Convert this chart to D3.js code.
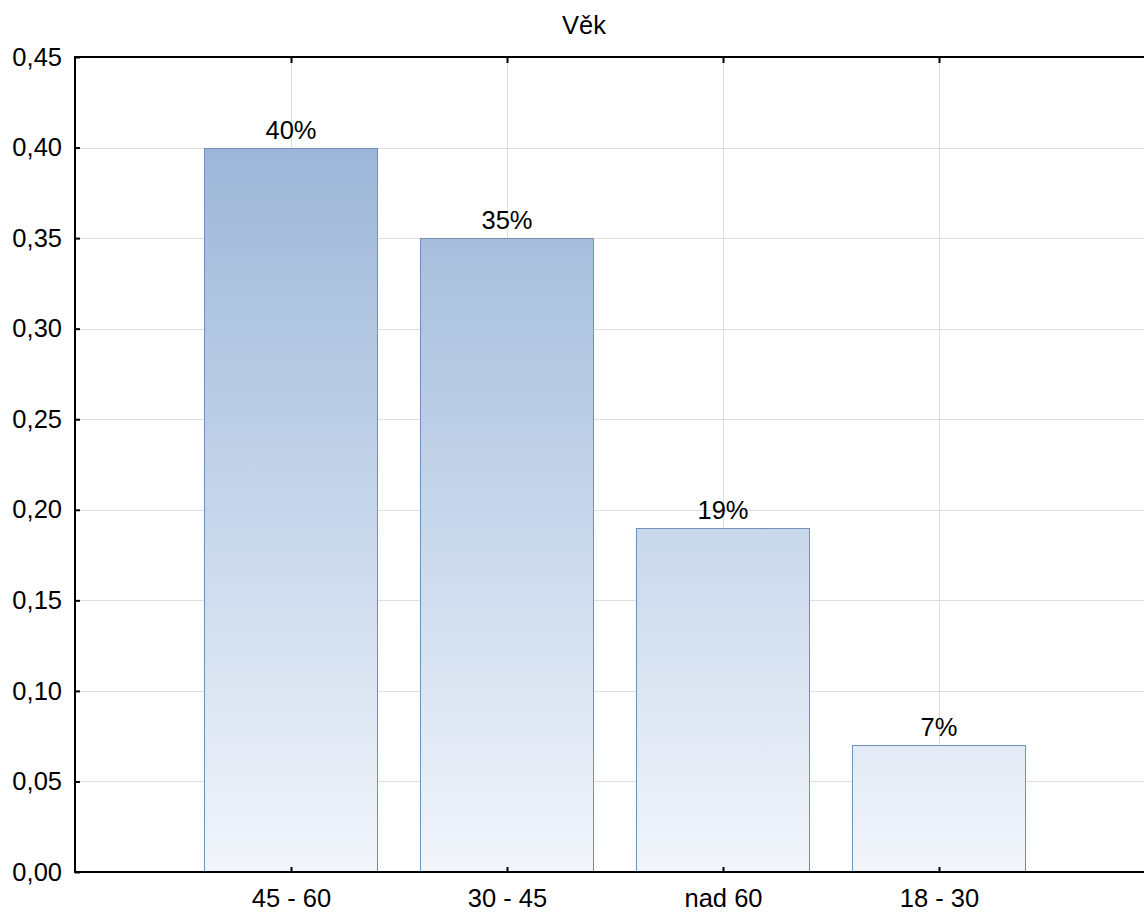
<!DOCTYPE html>
<html>
<head>
<meta charset="utf-8">
<script src="https://cdn.jsdelivr.net/npm/d3@7"></script>
<style>
  html, body { margin: 0; padding: 0; background: #fff; }
  svg { display: block; font-family: "Liberation Sans", Arial, sans-serif; }
</style>
</head>
<body>
<svg id="chart" width="1144" height="913"></svg>
<script>
// Age distribution of respondents
const categories = ["45 - 60", "30 - 45", "nad 60", "18 - 30"];
const shares = [0.40, 0.35, 0.19, 0.07];
const valueLabels = ["40%", "35%", "19%", "7%"];
const yTicks = [0, 0.05, 0.10, 0.15, 0.20, 0.25, 0.30, 0.35, 0.40, 0.45];
const title = "Věk";

(function () {
const svg = d3.select("#chart");
const plotLeft = 75, plotTop = 57, plotBottom = 872, plotRight = 1155;
const fontSize = 25.5;
const fontFamily = "Liberation Sans, Arial, sans-serif";

// categories sit at positions 1..n on a continuous axis padded by one slot each side
const x = d3.scaleLinear().domain([0, categories.length + 1]).range([plotLeft, plotRight]);
const slot = x(1) - x(0);
const barW = slot * 0.8;
const y = d3.scaleLinear().domain([0, 0.45]).range([plotBottom, plotTop]);
const fmt = v => d3.format(".2f")(v).replace(".", ",");

const defs = svg.append("defs");
const grad = defs.append("linearGradient")
  .attr("id", "barFill")
  .attr("gradientUnits", "userSpaceOnUse")
  .attr("x1", 0).attr("x2", 0)
  .attr("y1", y(0.40)).attr("y2", y(0));
grad.append("stop").attr("offset", 0).attr("stop-color", "#9db6d8");
grad.append("stop").attr("offset", 0.5).attr("stop-color", "#c6d6ea");
grad.append("stop").attr("offset", 1).attr("stop-color", "#f2f5fb");

// grid
const grid = svg.append("g").attr("stroke", "#dedede").attr("stroke-width", 1);
grid.selectAll("line.h").data(yTicks.slice(1, -1)).join("line")
  .attr("class", "h")
  .attr("x1", plotLeft).attr("x2", 1144)
  .attr("y1", d => Math.round(y(d)) + 0.5).attr("y2", d => Math.round(y(d)) + 0.5);
grid.selectAll("line.v").data(categories).join("line")
  .attr("class", "v")
  .attr("x1", (d, i) => Math.round(x(i + 1)) + 0.5).attr("x2", (d, i) => Math.round(x(i + 1)) + 0.5)
  .attr("y1", plotTop).attr("y2", plotBottom);

// bars
svg.append("g").selectAll("rect").data(shares).join("rect")
  .attr("x", (d, i) => Math.round(x(i + 1) - barW / 2) - 0.5)
  .attr("y", d => Math.round(y(d)) + 0.5)
  .attr("width", Math.round(barW))
  .attr("height", d => Math.round(y(0)) - Math.round(y(d)))
  .attr("fill", "url(#barFill)")
  .attr("stroke", "#7290b7")
  .attr("stroke-width", 1);

// value labels
svg.append("g").selectAll("text").data(shares).join("text")
  .attr("x", (d, i) => x(i + 1))
  .attr("y", d => y(d) - 9)
  .attr("text-anchor", "middle")
  .attr("font-size", fontSize)
  .attr("font-family", fontFamily)
  .attr("fill", "#000")
  .text((d, i) => valueLabels[i]);

// y axis with inward ticks
const yAxis = svg.append("g").attr("transform", `translate(${plotLeft},0)`)
  .call(d3.axisLeft(y).tickValues(yTicks).tickFormat(fmt).tickSize(-5).tickPadding(13));
yAxis.select(".domain").remove();
yAxis.selectAll(".tick line").attr("stroke", "#000").attr("stroke-width", 2);
yAxis.selectAll(".tick text").attr("font-size", fontSize).attr("fill", "#000")
  .attr("font-family", fontFamily);

// bottom axis with inward ticks
const xAxis = svg.append("g").attr("transform", `translate(0,${plotBottom})`)
  .call(d3.axisBottom(x).tickValues(categories.map((c, i) => i + 1))
    .tickFormat((d) => categories[d - 1]).tickSize(-5).tickPadding(17));
xAxis.select(".domain").remove();
xAxis.selectAll(".tick line").attr("stroke", "#000").attr("stroke-width", 2);
xAxis.selectAll(".tick text").attr("font-size", fontSize).attr("fill", "#000")
  .attr("font-family", fontFamily);

// top ticks pointing inward
svg.append("g").selectAll("line").data(categories).join("line")
  .attr("x1", (d, i) => Math.round(x(i + 1)) + 0.5).attr("x2", (d, i) => Math.round(x(i + 1)) + 0.5)
  .attr("y1", plotTop).attr("y2", plotTop + 6)
  .attr("stroke", "#000").attr("stroke-width", 2);

// frame lines: left, top, bottom
const frame = svg.append("g").attr("stroke", "#000").attr("stroke-width", 2).attr("fill", "none");
frame.append("line").attr("x1", plotLeft).attr("x2", plotLeft).attr("y1", plotTop - 1).attr("y2", plotBottom + 1);
frame.append("line").attr("x1", plotLeft - 1).attr("x2", 1144).attr("y1", plotTop).attr("y2", plotTop);
frame.append("line").attr("x1", plotLeft - 1).attr("x2", 1144).attr("y1", plotBottom).attr("y2", plotBottom);

// title
svg.append("text")
  .attr("x", 584).attr("y", 34)
  .attr("text-anchor", "middle")
  .attr("font-size", fontSize)
  .attr("font-family", fontFamily)
  .attr("fill", "#000")
  .text(title);
})();
</script>
</body>
</html>
